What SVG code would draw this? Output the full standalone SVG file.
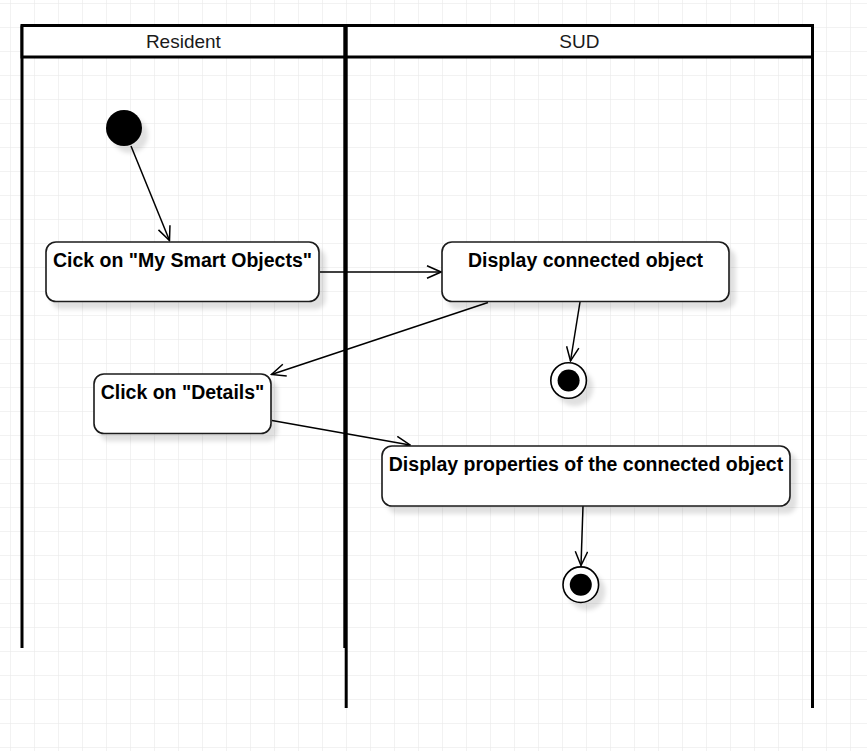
<svg xmlns="http://www.w3.org/2000/svg" width="867" height="751" viewBox="0 0 867 751">
<defs>
<pattern id="grid" x="10" y="3" width="24" height="24" patternUnits="userSpaceOnUse">
<path d="M0,0 H24 M0,0 V24" fill="none" stroke="#e6e6e6" stroke-width="1"/>
</pattern>
<filter id="shadow" x="-20%" y="-20%" width="150%" height="160%">
<feDropShadow dx="6" dy="7" stdDeviation="2" flood-color="#000" flood-opacity="0.12"/>
</filter>
<marker id="open" viewBox="0 0 16 14" refX="15" refY="7" markerWidth="16" markerHeight="14" markerUnits="userSpaceOnUse" orient="auto">
<path d="M1,0.8 L15,7 L1,13.2" fill="none" stroke="#000" stroke-width="1.5"/>
</marker>
</defs>
<style>
.lane{fill:none;stroke:#000;stroke-width:3}
.hdr{fill:#fff;stroke:#000;stroke-width:3}
.htxt{font-family:"Liberation Sans",Arial,sans-serif;font-size:19px;fill:#1a1a1a;text-anchor:middle}
.act{fill:#fff;stroke:#1a1a1a;stroke-width:1.6;filter:url(#shadow)}
.atxt{font-family:"Liberation Sans",Arial,sans-serif;font-size:19.5px;font-weight:bold;fill:#000;text-anchor:middle}
.edge{fill:none;stroke:#000;stroke-width:1.5;marker-end:url(#open)}
.fin{fill:#fff;stroke:#000;stroke-width:1.6;filter:url(#shadow)}
</style>
<rect width="867" height="751" fill="#fff"/>
<rect width="867" height="751" fill="url(#grid)"/>

<g id="lane-resident">
<line class="lane" x1="22" y1="25.5" x2="22" y2="648"/>
<line class="lane" x1="344.8" y1="25.5" x2="344.8" y2="648"/>
<rect class="hdr" x="22" y="25.5" width="322.8" height="31.5"/>
<text class="htxt" x="183.4" y="47.5">Resident</text>
</g>

<g id="lane-sud">
<line class="lane" x1="346.2" y1="25.5" x2="346.2" y2="708"/>
<line class="lane" x1="812.5" y1="25.5" x2="812.5" y2="708"/>
<rect class="hdr" x="346.2" y="25.5" width="466.3" height="31.5"/>
<text class="htxt" x="579.3" y="47.5">SUD</text>
</g>

<g id="connectors">
<line class="edge" x1="131" y1="146" x2="169.5" y2="240.5"/>
<line class="edge" x1="320" y1="272" x2="441" y2="272"/>
<line class="edge" x1="488" y1="302.5" x2="271.5" y2="374.5"/>
<line class="edge" x1="580" y1="302" x2="570.5" y2="361"/>
<line class="edge" x1="272" y1="420.5" x2="410" y2="445"/>
<line class="edge" x1="583" y1="506" x2="581" y2="565.5"/>
</g>

<g id="initial">
<circle cx="124" cy="128" r="18" fill="#000" filter="url(#shadow)"/>
</g>

<g id="act-smart-objects">
<rect class="act" x="46" y="242" width="273" height="59.5" rx="10"/>
<text class="atxt" x="182.5" y="266.5">Cick on "My Smart Objects"</text>
</g>

<g id="act-display-connected">
<rect class="act" x="442" y="242" width="287" height="59.5" rx="10"/>
<text class="atxt" x="585.5" y="266.5">Display connected object</text>
</g>

<g id="final-1">
<circle class="fin" cx="568.6" cy="380.5" r="17.8"/>
<circle cx="568.6" cy="380.5" r="11" fill="#000"/>
</g>

<g id="act-details">
<rect class="act" x="94" y="374" width="177" height="59.5" rx="10"/>
<text class="atxt" x="182.5" y="398.5">Click on "Details"</text>
</g>

<g id="act-display-properties">
<rect class="act" x="382" y="446" width="408" height="60" rx="10"/>
<text class="atxt" x="586" y="470.5">Display properties of the connected object</text>
</g>

<g id="final-2">
<circle class="fin" cx="580.8" cy="584.7" r="17.8"/>
<circle cx="580.8" cy="584.7" r="11" fill="#000"/>
</g>
</svg>
